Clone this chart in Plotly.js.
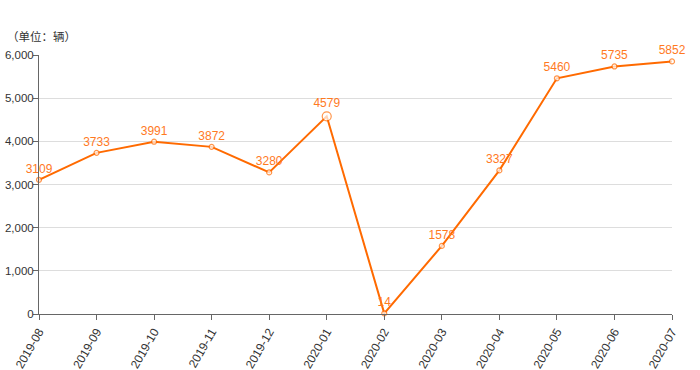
<!DOCTYPE html>
<html>
<head>
<meta charset="utf-8">
<script src="https://cdn.plot.ly/plotly-3.0.1.min.js"></script>
<style>html,body{margin:0;padding:0;background:#fff;}#chart{width:700px;height:370px;}</style>
</head>
<body>
<div id="chart"></div>
<script>
var months = ["2019-08","2019-09","2019-10","2019-11","2019-12","2020-01","2020-02","2020-03","2020-04","2020-05","2020-06","2020-07"];
var sales = [3109,3733,3991,3872,3280,4579,14,1578,3327,5460,5735,5852];
var yTicks = [0,1000,2000,3000,4000,5000,6000];
var unitLabel = "（单位：辆）";

var orange = "#ff6a00";
var markerSizes = months.map(function(m, i){ return i === 5 ? 9 : 5; });

var trace = {
  x: months,
  y: sales,
  type: "scatter",
  mode: "lines+markers+text",
  text: sales.map(String),
  textposition: "top center",
  textfont: {color: "#ff7a1f", size: 12, family: "Liberation Sans, Arial, sans-serif"},
  line: {color: orange, width: 2},
  marker: {size: markerSizes, color: "#ffffff", line: {color: orange, width: 1.2}},
  cliponaxis: false,
  hoverinfo: "x+y"
};

var layout = {
  width: 700,
  height: 370,
  margin: {l: 39, r: 28, t: 55, b: 56},
  paper_bgcolor: "#fff",
  plot_bgcolor: "#fff",
  showlegend: false,
  font: {family: "Liberation Sans, Arial, Noto Sans CJK SC, sans-serif", size: 12, color: "#333"},
  xaxis: {
    type: "category",
    range: [0, months.length - 1],
    showgrid: false,
    showline: true,
    linecolor: "#666",
    linewidth: 1,
    ticks: "outside",
    ticklen: 5,
    tickcolor: "#666",
    tickangle: -60,
    tickfont: {size: 12, color: "#333"},
    zeroline: false,
    fixedrange: true
  },
  yaxis: {
    range: [0, 6000],
    tickvals: yTicks,
    tickformat: ",",
    showgrid: true,
    gridcolor: "#dddddd",
    gridwidth: 1,
    showline: true,
    linecolor: "#666",
    ticks: "outside",
    ticklen: 5,
    tickcolor: "#666",
    ticklabelstandoff: -3,
    tickfont: {size: 11.5, color: "#333"},
    zeroline: false,
    fixedrange: true
  },
  annotations: [{
    text: unitLabel,
    xref: "paper", yref: "paper",
    x: 0, y: 1,
    xshift: -34, yshift: 19,
    xanchor: "left", yanchor: "middle",
    showarrow: false,
    font: {family: "Noto Sans CJK SC, sans-serif", size: 11.5, color: "#333"}
  }]
};

Plotly.newPlot("chart", [trace], layout, {displayModeBar: false, staticPlot: true});
</script>
</body>
</html>
